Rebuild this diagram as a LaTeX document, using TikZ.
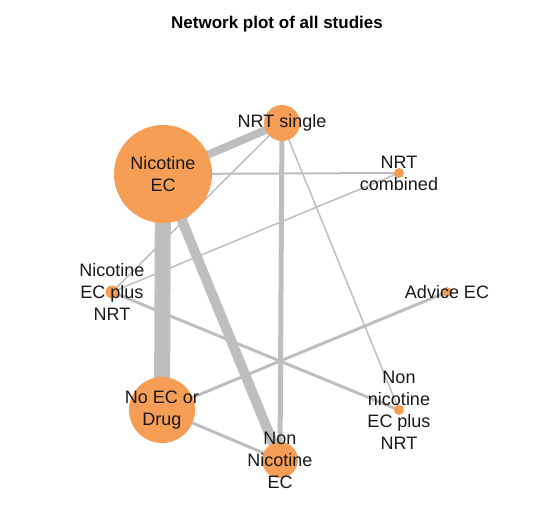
\documentclass[tikz,border=0pt]{standalone}
\usepackage{fontspec}
\setmainfont{Liberation Sans}
\definecolor{netorange}{RGB}{246,158,86}
\definecolor{netgrey}{RGB}{190,190,190}
\usetikzlibrary{backgrounds}

\begin{document}
\begin{tikzpicture}[x=1pt,y=-1pt,
                    trt/.style={circle,fill=netorange,inner sep=0pt,
                                minimum size=#1},
                    lab/.style={align=center,inner sep=0pt,text=black!90,
                                font=\fontsize{18}{22}\selectfont},
                    link/.style={netgrey,line width=#1}]
  \useasboundingbox (0,0) rectangle (553,521);
  \node[font=\bfseries\fontsize{17}{20}\selectfont] (title) at (277,24)
    {Network plot of all studies};
  % treatments
  \node[trt=98pt] (nicec) at (163,174) {};
  \node[trt=36pt] (nrtsingle) at (282,123) {};
  \node[trt=10pt] (nrtcomb) at (399,173) {};
  \node[trt=10pt] (advice) at (447,292) {};
  \node[trt=10pt] (nonnicnrt) at (399,410) {};
  \node[trt=36pt] (nonnic) at (280,460) {};
  \node[trt=66pt] (noec) at (162,410) {};
  \node[trt=13pt] (nicnrt) at (112,292) {};
  % comparisons
  \begin{scope}[on background layer]
    \draw[link=16pt] (nicec.center) -- (noec.center);
    \draw[link=10pt] (nicec.center) -- (nonnic.center);
    \draw[link=8pt] (nicec.center) -- (nrtsingle.center);
    \draw[link=5pt] (nrtsingle.center) -- (nonnic.center);
    \draw[link=2pt] (nicec.center) -- (nrtcomb.center);
    \draw[link=1.5pt] (nicnrt.center) -- (nrtsingle.center);
    \draw[link=1.5pt] (nicnrt.center) -- (nrtcomb.center);
    \draw[link=1.5pt] (nrtsingle.center) -- (nonnicnrt.center);
    \draw[link=3pt] (nicnrt.center) -- (nonnicnrt.center);
    \draw[link=3pt] (noec.center) -- (advice.center);
    \draw[link=3pt] (noec.center) -- (nonnic.center);
  \end{scope}
  % labels
  \node[lab] at (nicec) {Nicotine\\EC};
  \node[lab] at (nrtsingle) {NRT single};
  \node[lab] at (nrtcomb) {NRT\\combined};
  \node[lab] at (advice) {Advice EC};
  \node[lab] at (nonnicnrt) {Non\\nicotine\\EC plus\\NRT};
  \node[lab] at (nonnic) {Non\\Nicotine\\EC};
  \node[lab] at (noec) {No EC or\\Drug};
  \node[lab] at (nicnrt) {Nicotine\\EC plus\\NRT};
\end{tikzpicture}
\end{document}
